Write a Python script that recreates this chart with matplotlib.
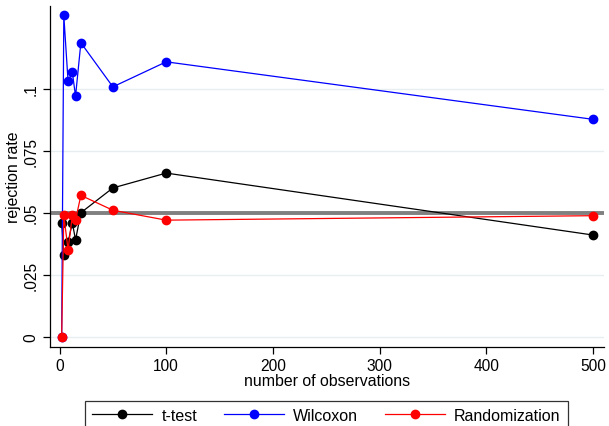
import numpy as np
import matplotlib
matplotlib.use("Agg")
import matplotlib.pyplot as plt

plt.rcParams['font.family'] = ['Liberation Sans', 'DejaVu Sans']

# sample sizes and rejection rates for each test
n_obs = [2, 4, 8, 12, 15, 20, 50, 100, 500]
t_test = [0.046, 0.033, 0.038, 0.046, 0.039, 0.050, 0.060, 0.066, 0.041]
wilcoxon = [0.0, 0.1296, 0.103, 0.1067, 0.097, 0.1186, 0.1008, 0.1109, 0.0877]
randomization = [0.0, 0.049, 0.035, 0.049, 0.047, 0.057, 0.051, 0.047, 0.0488]
nominal = 0.05

y_ticks = [0, 0.025, 0.05, 0.075, 0.1]
y_ticklabels = ['0', '.025', '.05', '.075', '.1']
x_ticks = [0, 100, 200, 300, 400, 500]

fig = plt.figure(figsize=(6.09, 4.27), dpi=100)
ax = fig.add_axes([0.082, 0.185, 0.909, 0.799])

for y in y_ticks:
    ax.axhline(y, color='#e6eef0', linewidth=1.0, zorder=0)
ax.axhline(nominal, color='#808080', linewidth=2.8, zorder=1)

ax.plot(n_obs, t_test, '-o', color='black', lw=0.9, ms=6, label='t-test', zorder=3)
ax.plot(n_obs, wilcoxon, '-o', color='#0000ff', lw=0.9, ms=6, label='Wilcoxon', zorder=3)
ax.plot(n_obs, randomization, '-o', color='#ff0000', lw=0.9, ms=6, label='Randomization', zorder=4)

ax.set_xlim(-9, 510)
ax.set_ylim(-0.0042, 0.1335)
ax.set_xticks(x_ticks)
ax.set_yticks(y_ticks)
ax.set_yticklabels(y_ticklabels, rotation=90, va='center')
ax.tick_params(axis='both', direction='out', length=5, width=0.9, labelsize=11.2, pad=3)

for side in ['top', 'right']:
    ax.spines[side].set_visible(False)
for side in ['left', 'bottom']:
    ax.spines[side].set_linewidth(0.9)

ax.set_xlabel('number of observations', fontsize=11.4, labelpad=0)
ax.set_ylabel('rejection rate', fontsize=11.4, labelpad=2)

leg = fig.legend(loc='upper center', bbox_to_anchor=(0.536, 0.078), ncol=3,
                 fontsize=11.5, handlelength=3.75, handletextpad=0.6,
                 columnspacing=1.65, fancybox=False, borderpad=0.45,
                 frameon=True)
leg.get_frame().set_edgecolor('black')
leg.get_frame().set_linewidth(0.9)

fig.savefig('out.png', dpi=100)
